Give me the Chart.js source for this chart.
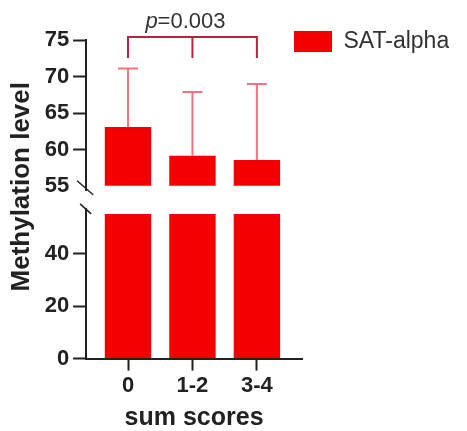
<!DOCTYPE html>
<html>
<head>
<meta charset="utf-8">
<script src="https://cdn.jsdelivr.net/npm/chart.js@4.4.1/dist/chart.umd.min.js"></script>
<style>
  html, body { margin: 0; padding: 0; background: #fff; }
  #wrap { width: 467px; height: 431px; }
</style>
</head>
<body>
<div id="wrap"><canvas id="chart"></canvas></div>
<script>
// SAT-alpha methylation by sum score group (mean + SD), broken y axis at 55
const groups = ['0', '1-2', '3-4'];
const means = [63.1, 59.2, 58.6];
const sds = [8.0, 8.7, 10.4];
const upperTicks = [55, 60, 65, 70, 75];
const lowerTicks = [0, 20, 40];
const breakAt = 55;
const pLabel = ['p', '=0.003'];

const red = '#f40000';
const ink = '#222';
const font = 'Liberation Sans, Arial, sans-serif';

const topBars = means.map((m, i) => ({ x: i, y: m }));
const lowBars = means.map((m, i) => ({ x: i, y: Math.min(m, breakAt) }));

const extras = {
  id: 'extras',
  afterLayout(chart) {
    // legend sits up over the top-right corner of the plot
    const lg = chart.legend;
    lg.left -= 18; lg.right -= 18;
    lg.top -= 20; lg.bottom -= 20;
  },
  afterDatasetsDraw(chart) {
    const { ctx, chartArea } = chart;
    const xs = chart.scales.x, yt = chart.scales.yTop, yb = chart.scales.yBot;
    ctx.save();

    // error bars, upper arm only
    ctx.strokeStyle = '#f27480';
    ctx.lineWidth = 2;
    means.forEach((m, i) => {
      const px = xs.getPixelForValue(i);
      const y0 = yt.getPixelForValue(m);
      const y1 = yt.getPixelForValue(m + sds[i]);
      ctx.beginPath();
      ctx.moveTo(px, y0); ctx.lineTo(px, y1);
      ctx.moveTo(px - 10, y1); ctx.lineTo(px + 10, y1);
      ctx.stroke();
    });

    // break marks on the y axis
    const ax = chartArea.left;
    ctx.strokeStyle = ink;
    ctx.lineWidth = 1.5;
    ctx.beginPath();
    ctx.moveTo(ax - 9, yt.bottom - 10); ctx.lineTo(ax + 7, yt.bottom + 4);
    ctx.moveTo(ax - 6, yb.top - 5); ctx.lineTo(ax + 5, yb.top + 5);
    ctx.stroke();

    // significance bracket across the three groups
    const xa = xs.getPixelForValue(0), xm = xs.getPixelForValue(1), xc = xs.getPixelForValue(2);
    const by = yt.top - 3, drop = by + 21;
    ctx.strokeStyle = '#b8243c';
    ctx.lineWidth = 2;
    ctx.beginPath();
    ctx.moveTo(xa, drop); ctx.lineTo(xa, by); ctx.lineTo(xc, by); ctx.lineTo(xc, drop);
    ctx.moveTo(xm, by); ctx.lineTo(xm, drop);
    ctx.stroke();

    ctx.fillStyle = '#333';
    ctx.textBaseline = 'alphabetic';
    const fIt = 'italic 22px ' + font, fUp = '22px ' + font;
    ctx.font = fIt; const w1 = ctx.measureText(pLabel[0]).width;
    ctx.font = fUp; const w2 = ctx.measureText(pLabel[1]).width;
    let tx = xm - 7 - (w1 + w2) / 2;
    ctx.font = fIt; ctx.fillText(pLabel[0], tx, by - 9);
    ctx.font = fUp; ctx.fillText(pLabel[1], tx + w1, by - 9);
    ctx.restore();
  }
};

const yAxisCommon = {
  type: 'linear',
  position: 'left',
  stack: 'methyl',
  // a little slack so bold labels are not clipped on their left edge
  afterFit: (s) => { s.width += 4; },
  border: { color: ink, width: 2 },
  grid: {
    drawOnChartArea: false, tickLength: 13, tickWidth: 2,
    tickColor: (c) => (c.tick && c.tick.value === breakAt && c.scale.id === 'yTop') ? 'rgba(0,0,0,0)' : ink
  },
  ticks: { color: ink, padding: 4, autoSkip: false, font: { family: font, size: 22, weight: 'bold' } }
};

// empty axis used only as a spacer inside a left-hand stack
const spacer = (stack, weight) => ({
  type: 'linear', position: 'left', stack: stack, stackWeight: weight,
  min: 0, max: 1,
  border: { display: false },
  grid: { display: false, drawTicks: false },
  ticks: { display: false }
});

new Chart(document.getElementById('chart'), {
  type: 'bar',
  data: {
    datasets: [
      { label: 'SAT-alpha', data: topBars, yAxisID: 'yTop', base: breakAt,
        backgroundColor: red, borderWidth: 0, grouped: false,
        categoryPercentage: 1, barPercentage: 0.72 },
      { label: 'SAT-alpha', data: lowBars, yAxisID: 'yBot',
        backgroundColor: red, borderWidth: 0, grouped: false,
        categoryPercentage: 1, barPercentage: 0.72 }
    ]
  },
  options: {
    responsive: true,
    maintainAspectRatio: false,
    animation: false,
    layout: { padding: { top: 40, left: 0, right: 0, bottom: 0 } },
    plugins: {
      tooltip: { enabled: false },
      legend: {
        position: 'right',
        align: 'start',
        maxWidth: 165,
        labels: {
          boxWidth: 38, boxHeight: 21, padding: 10, color: '#333',
          font: { family: font, size: 23 },
          filter: (item) => item.datasetIndex === 0
        }
      }
    },
    scales: {
      x: {
        type: 'linear',
        min: -0.65, max: 2.7,
        offset: false,
        afterBuildTicks: (s) => { s.ticks = groups.map((g, i) => ({ value: i })); },
        border: { color: ink, width: 2 },
        grid: { offset: false, drawOnChartArea: false, tickLength: 12, tickWidth: 2, tickColor: ink },
        ticks: {
          color: ink, padding: 2, maxRotation: 0, autoSkip: false,
          font: { family: font, size: 22, weight: 'bold' },
          callback: (v) => groups[v]
        },
        title: {
          display: true, text: 'sum scores', color: ink, padding: { top: 4, bottom: 0 },
          font: { family: font, size: 25, weight: 'bold', lineHeight: 1.04 }
        }
      },
      // left axes are laid out last-listed first: the break stack, bottom segment listed first
      yBot: Object.assign({}, yAxisCommon, {
        min: 0, max: 57, stackWeight: 149,
        afterBuildTicks: (s) => { s.ticks = lowerTicks.map((v) => ({ value: v })); }
      }),
      yGap: spacer('methyl', 18),
      yTop: Object.assign({}, yAxisCommon, {
        min: 54.4, max: 75, stackWeight: 150,
        afterBuildTicks: (s) => { s.ticks = upperTicks.map((v) => ({ value: v })); }
      }),
      // outer column carrying the y title, shifted up a little by the pad below it
      yTitlePad: spacer('label', 25),
      yTitle: Object.assign(spacer('label', 292), {
        title: {
          display: true, text: 'Methylation level', color: ink,
          padding: { top: 6, bottom: 6 },
          font: { family: font, size: 26, weight: 'bold' }
        }
      })
    }
  },
  plugins: [extras]
});
</script>
</body>
</html>
